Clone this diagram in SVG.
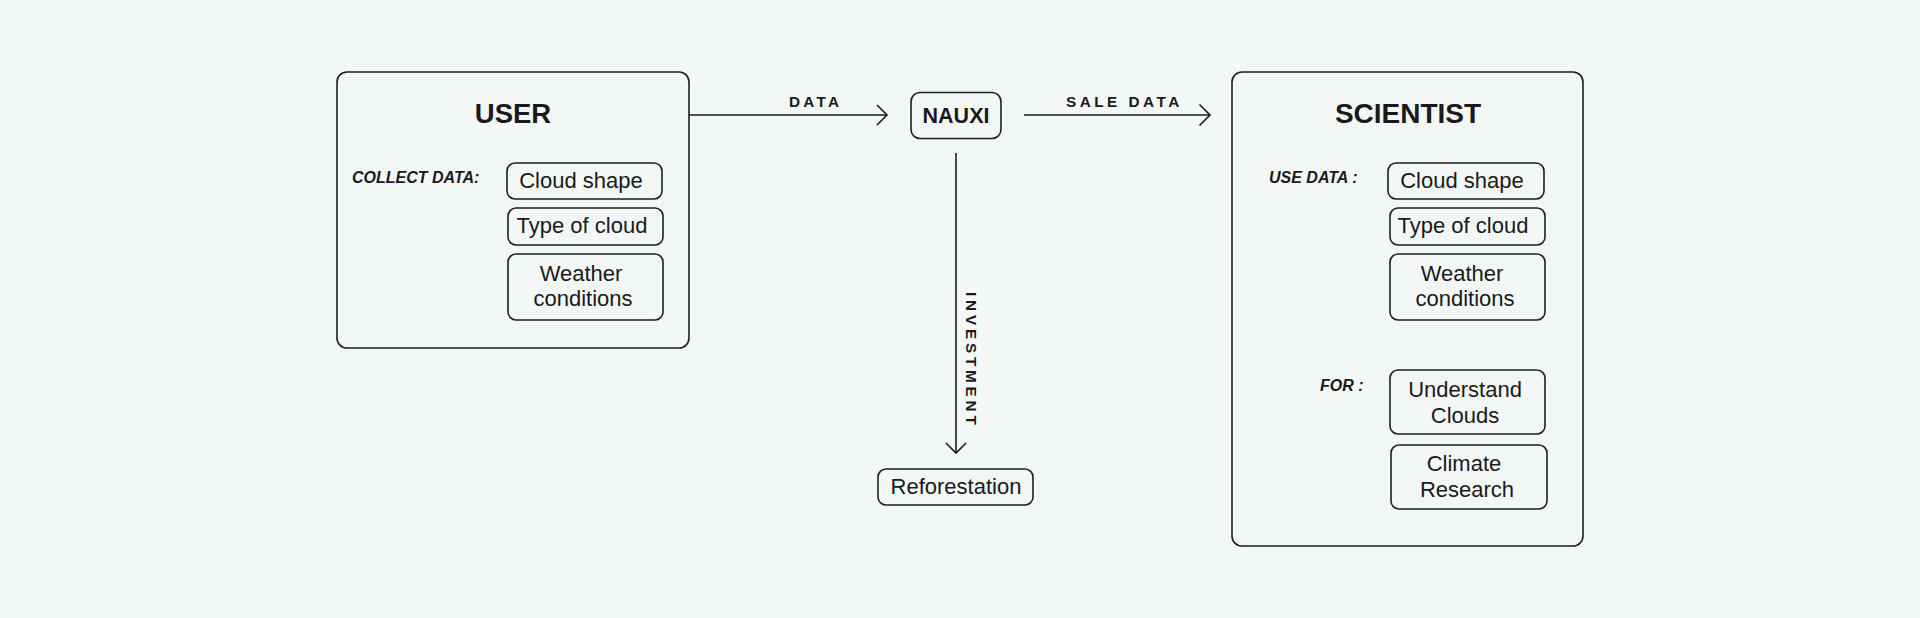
<svg xmlns="http://www.w3.org/2000/svg" width="1920" height="618" viewBox="0 0 1920 618">
  <style>
    .box { fill: none; stroke: #1e1e1e; stroke-width: 1.6; }
    .conn { fill: none; stroke: #1e1e1e; stroke-width: 1.6; }
    .title { font-family: "Liberation Sans", Arial, sans-serif; font-weight: bold; font-size: 27.5px; fill: #1a1a1a; text-anchor: middle; }
    .lab { font-family: "Liberation Sans", Arial, sans-serif; font-weight: bold; font-style: italic; font-size: 16px; fill: #1a1a1a; }
    .item { font-family: "Liberation Sans", Arial, sans-serif; font-size: 22px; fill: #1a1a1a; text-anchor: middle; }
    .elab { font-family: "Liberation Sans", Arial, sans-serif; font-weight: bold; font-size: 15.3px; fill: #1a1a1a; }
  </style>
  <rect width="1920" height="618" fill="#f3f8f6"/>

  <g id="connectors">
    <path class="conn" d="M689 115 H887 M877 105 L887 115 L877 125"/>
    <text class="elab" x="789" y="107" letter-spacing="3.3">DATA</text>
    <path class="conn" d="M1024 115 H1210 M1199.5 104.5 L1210 115 L1199.5 125.5"/>
    <text class="elab" x="1066" y="107" letter-spacing="3.5">SALE DATA</text>
    <path class="conn" d="M956 153 V453 M946 443 L956 453 L966 443"/>
    <text class="elab" transform="translate(966 292) rotate(90)" x="0" y="0" letter-spacing="3.8">INVESTMENT</text>
  </g>

  <g id="user">
    <rect class="box" x="337" y="72" width="352" height="276" rx="10"/>
    <text class="title" x="513" y="123">USER</text>
    <text class="lab" x="352" y="183">COLLECT DATA:</text>
    <g id="user-cloud-shape">
      <rect class="box" x="507" y="163" width="155" height="36" rx="8"/>
      <text class="item" x="581" y="188">Cloud shape</text>
    </g>
    <g id="user-type-of-cloud">
      <rect class="box" x="508" y="208" width="155" height="37" rx="8"/>
      <text class="item" x="582" y="233">Type of cloud</text>
    </g>
    <g id="user-weather">
      <rect class="box" x="508" y="254" width="155" height="66" rx="8"/>
      <text class="item" x="581" y="281">Weather</text>
      <text class="item" x="583" y="306">conditions</text>
    </g>
  </g>

  <g id="nauxi">
    <rect class="box" x="911" y="92.5" width="90" height="46" rx="9"/>
    <text class="title" x="956" y="123" style="font-size:21.5px">NAUXI</text>
  </g>

  <g id="reforestation">
    <rect class="box" x="878" y="469" width="155" height="36" rx="8"/>
    <text class="item" x="956" y="494">Reforestation</text>
  </g>

  <g id="scientist">
    <rect class="box" x="1232" y="72" width="351" height="474" rx="10"/>
    <text class="title" x="1408" y="123" style="font-size:28px">SCIENTIST</text>
    <text class="lab" x="1269" y="183">USE DATA :</text>
    <g id="sci-cloud-shape">
      <rect class="box" x="1388" y="163" width="156" height="36" rx="8"/>
      <text class="item" x="1462" y="188">Cloud shape</text>
    </g>
    <g id="sci-type-of-cloud">
      <rect class="box" x="1390" y="208" width="155" height="37" rx="8"/>
      <text class="item" x="1463" y="233">Type of cloud</text>
    </g>
    <g id="sci-weather">
      <rect class="box" x="1390" y="254" width="155" height="66" rx="8"/>
      <text class="item" x="1462" y="281">Weather</text>
      <text class="item" x="1465" y="306">conditions</text>
    </g>
    <text class="lab" x="1320" y="391">FOR :</text>
    <g id="sci-understand">
      <rect class="box" x="1390" y="370" width="155" height="64" rx="8"/>
      <text class="item" x="1465" y="397">Understand</text>
      <text class="item" x="1465" y="423">Clouds</text>
    </g>
    <g id="sci-climate">
      <rect class="box" x="1391" y="445" width="156" height="64" rx="8"/>
      <text class="item" x="1464" y="471">Climate</text>
      <text class="item" x="1467" y="497">Research</text>
    </g>
  </g>
</svg>
